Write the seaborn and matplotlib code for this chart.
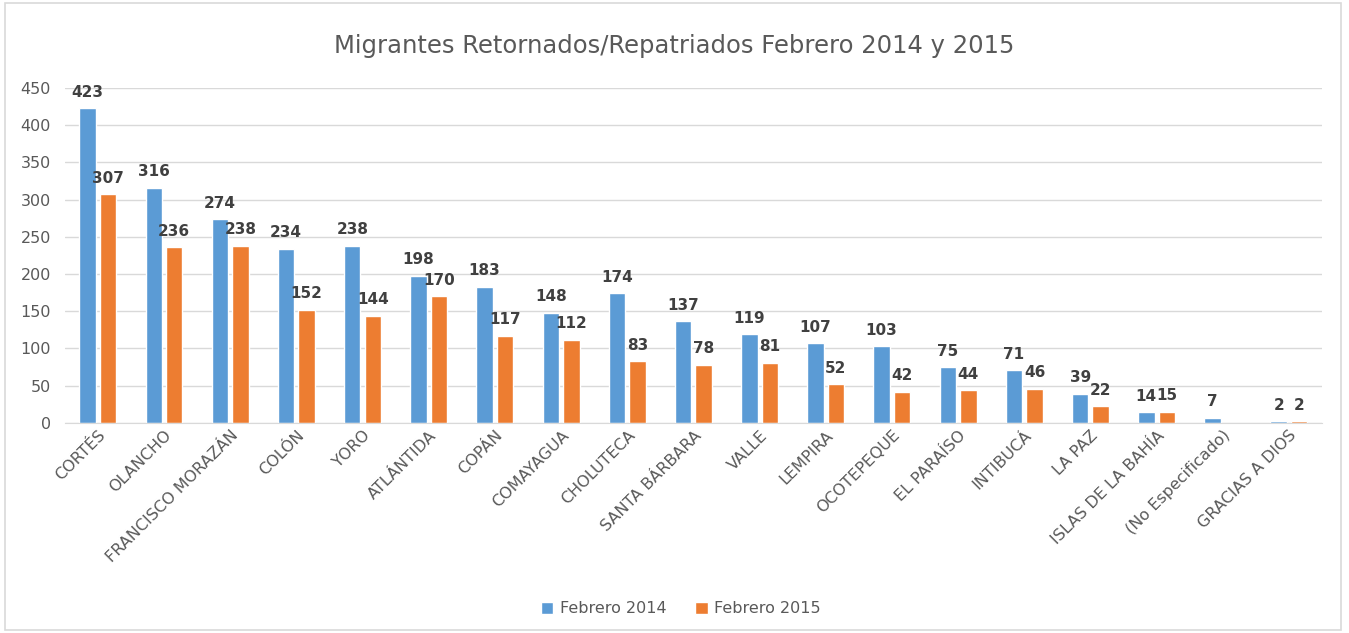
import numpy as np
import pandas as pd
import matplotlib.pyplot as plt
import seaborn as sns
from matplotlib.patches import Rectangle

# data
departamentos = ['CORTÉS', 'OLANCHO', 'FRANCISCO MORAZÁN', 'COLÓN', 'YORO', 'ATLÁNTIDA',
                 'COPÁN', 'COMAYAGUA', 'CHOLUTECA', 'SANTA BÁRBARA', 'VALLE', 'LEMPIRA',
                 'OCOTEPEQUE', 'EL PARAÍSO', 'INTIBUCÁ', 'LA PAZ', 'ISLAS DE LA BAHÍA',
                 '(No Especificado)', 'GRACIAS A DIOS']
feb_2014 = [423, 316, 274, 234, 238, 198, 183, 148, 174, 137, 119, 107, 103, 75, 71, 39, 14, 7, 2]
feb_2015 = [307, 236, 238, 152, 144, 170, 117, 112, 83, 78, 81, 52, 42, 44, 46, 22, 15, np.nan, 2]
series = ['Febrero 2014', 'Febrero 2015']

df = pd.DataFrame({
    'Departamento': departamentos * 2,
    'Periodo': [series[0]] * len(departamentos) + [series[1]] * len(departamentos),
    'Migrantes': feb_2014 + feb_2015,
})

sns.set_style('white')
plt.rcParams['font.family'] = ['DejaVu Sans']

fig = plt.figure(figsize=(13.49, 6.33), dpi=100)
ax = fig.add_axes([0.048, 0.332, 0.932, 0.529])

sns.barplot(data=df, x='Departamento', y='Migrantes', hue='Periodo', order=departamentos,
            hue_order=series, palette=['#5B9BD5', '#ED7D31'], width=0.62, gap=0.2,
            saturation=1, ax=ax, errorbar=None)

# value labels
for cont in ax.containers:
    ax.bar_label(cont, fmt=lambda v: '' if np.isnan(v) else f'{v:.0f}', padding=6,
                 fontsize=11, fontweight='bold', color='#404040')

ax.set_ylim(0, 450)
ax.set_yticks(range(0, 451, 50))
ax.yaxis.grid(True, color='#d9d9d9', linewidth=1)
ax.set_axisbelow(True)
for s in ['top', 'right', 'left']:
    ax.spines[s].set_visible(False)
ax.spines['bottom'].set_color('#d9d9d9')
ax.set_xlabel('')
ax.set_ylabel('')
ax.tick_params(axis='both', length=0, colors='#595959', labelsize=11.5)
ax.tick_params(axis='y', pad=10)
plt.setp(ax.get_xticklabels(), rotation=45, ha='right', rotation_mode='anchor')

fig.suptitle('Migrantes Retornados/Repatriados Febrero 2014 y 2015', fontsize=17.5,
             color='#595959', x=0.5, y=0.947)

ax.legend(loc='upper center', bbox_to_anchor=(0.49, -0.49), ncol=2, frameon=False,
          fontsize=11.5, handlelength=0.8, handleheight=0.8, columnspacing=1.8,
          handletextpad=0.4, labelcolor='#595959')

# chart border
fig.patches.append(Rectangle((0.004, 0.004), 0.99, 0.992, transform=fig.transFigure,
                             fill=False, edgecolor='#d9d9d9', linewidth=1.2))

fig.savefig('out.png', dpi=100)
